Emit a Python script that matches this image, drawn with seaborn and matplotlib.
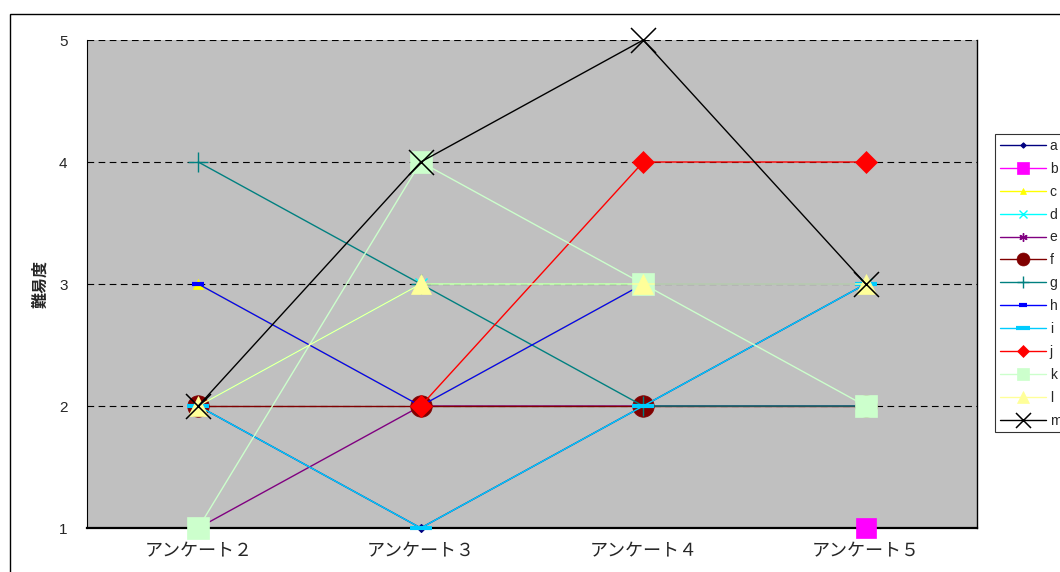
import numpy as np
import pandas as pd
import matplotlib
matplotlib.use("Agg")
import matplotlib.pyplot as plt
from matplotlib.patches import Rectangle
import seaborn as sns

# ---- data ----
categories = ["アンケート２", "アンケート３", "アンケート４", "アンケート５"]
series_names = ["a", "b", "c", "d", "e", "f", "g", "h", "i", "j", "k", "l", "m"]
a = [2, 1, 2, 3]
b = [np.nan, np.nan, np.nan, 1]
c = [3, 2, 3, 3]
d = [2, 3, 3, 3]
e = [1, 2, 2, 2]
f = [2, 2, 2, 2]
g = [4, 3, 2, 2]
h = [3, 2, 3, 3]
i_ = [2, 1, 2, 3]
j = [np.nan, 2, 4, 4]
k = [1, 4, 3, 2]
l = [2, 3, 3, 3]
m = [2, 4, 5, 3]
values = [a, b, c, d, e, f, g, h, i_, j, k, l, m]
y_ticks = [1, 2, 3, 4, 5]
y_label = "難易度"

# ---- styles ----
styles = {
    "a": dict(color="#000080", marker="D", ms=4.5, mew=0.8),
    "b": dict(color="#FF00FF", marker="s", ms=15, mew=0.5),
    "c": dict(color="#FFFF00", marker="^", ms=7, mew=0.5),
    "d": dict(color="#00FFFF", marker="x", ms=9, mew=1.0),
    "e": dict(color="#800080", marker=(6, 2, 0), ms=10, mew=1.0),
    "f": dict(color="#800000", marker="o", ms=15.5, mew=0.5),
    "g": dict(color="#008080", marker="+", ms=15, mew=1.0),
    "h": dict(color="#0000FF", marker="_", ms=9, mew=3),
    "i": dict(color="#00CCFF", marker="_", ms=16, mew=3),
    "j": dict(color="#FF0000", marker="D", ms=11, mew=0.5),
    "k": dict(color="#CCFFCC", marker="s", ms=15.5, mew=0.5),
    "l": dict(color="#FFFF99", marker="^", ms=15, mew=0.5),
    "m": dict(color="#000000", marker="x", ms=18, mew=1.1),
}

sns.set_style("white")
plt.rcParams["font.family"] = ["Liberation Sans", "Noto Sans CJK JP", "DejaVu Sans"]

W, H = 1060, 572
fig = plt.figure(figsize=(W / 100, H / 100), dpi=100)
ax = fig.add_axes([87 / W, 1 - 528 / H, 890 / W, 488 / H])
ax.set_facecolor("#C0C0C0")

x_pos = np.arange(len(categories))
for zi, (name, vals) in enumerate(zip(series_names, values)):
    st = styles[name]
    df = pd.DataFrame({"x": x_pos, "y": vals}).dropna()
    sns.lineplot(data=df, x="x", y="y", ax=ax, color=st["color"], linewidth=1.0,
                 marker=st["marker"], markersize=st["ms"], markeredgewidth=st["mew"],
                 markeredgecolor=st["color"], markerfacecolor=st["color"],
                 errorbar=None, label=name, clip_on=False, zorder=3 + zi, sort=False)

ax.set_xlim(-0.5, len(categories) - 0.5)
ax.set_ylim(1, 5)
ax.set_yticks(y_ticks)
ax.set_yticklabels([str(v) for v in y_ticks], fontsize=11, family=["Liberation Sans"])
ax.set_xticks(x_pos)
ax.set_xticklabels(categories, fontsize=13, family=["Noto Sans CJK JP", "DejaVu Sans"])
ax.set_xticks(np.arange(0.5, len(categories) - 0.5, 1.0), minor=True)
ax.tick_params(axis="x", which="major", length=0, pad=10)
ax.tick_params(axis="x", which="minor", length=4, direction="in", width=0.8, color="black")
ax.tick_params(axis="y", length=0, pad=14)
ax.set_xlabel("")
ax.set_ylabel("")

for yv in y_ticks[1:]:
    ax.axhline(yv, color="black", linewidth=0.8, linestyle=(0, (6, 4)), zorder=1)

for side in ["left", "right", "bottom"]:
    ax.spines[side].set_visible(True)
    ax.spines[side].set_color("black")
ax.spines["left"].set_linewidth(0.8)
ax.spines["right"].set_linewidth(1.0)
ax.spines["bottom"].set_linewidth(1.6)
ax.spines["top"].set_visible(False)

fig.text(40 / W, 1 - 284 / H, y_label, rotation=90, ha="center", va="center",
         fontsize=11.5, fontweight="bold", family=["Noto Sans CJK JP", "DejaVu Sans"])

leg = ax.legend(loc="upper left", bbox_to_anchor=(995 / W, 1 - 134 / H),
                bbox_transform=fig.transFigure, frameon=True, fontsize=10,
                labelspacing=0.64, handlelength=3.3, handletextpad=0.3,
                borderpad=0.35, borderaxespad=0, markerscale=0.6, fancybox=False)
leg.get_frame().set_edgecolor("black")
leg.get_frame().set_linewidth(0.8)
leg.get_frame().set_facecolor("white")

fig.patches.append(Rectangle((10 / W, -0.1), 1.2, 1.1 - 14 / H, transform=fig.transFigure,
                             fill=False, edgecolor="black", linewidth=1.0))

fig.savefig("out.png", dpi=100)
